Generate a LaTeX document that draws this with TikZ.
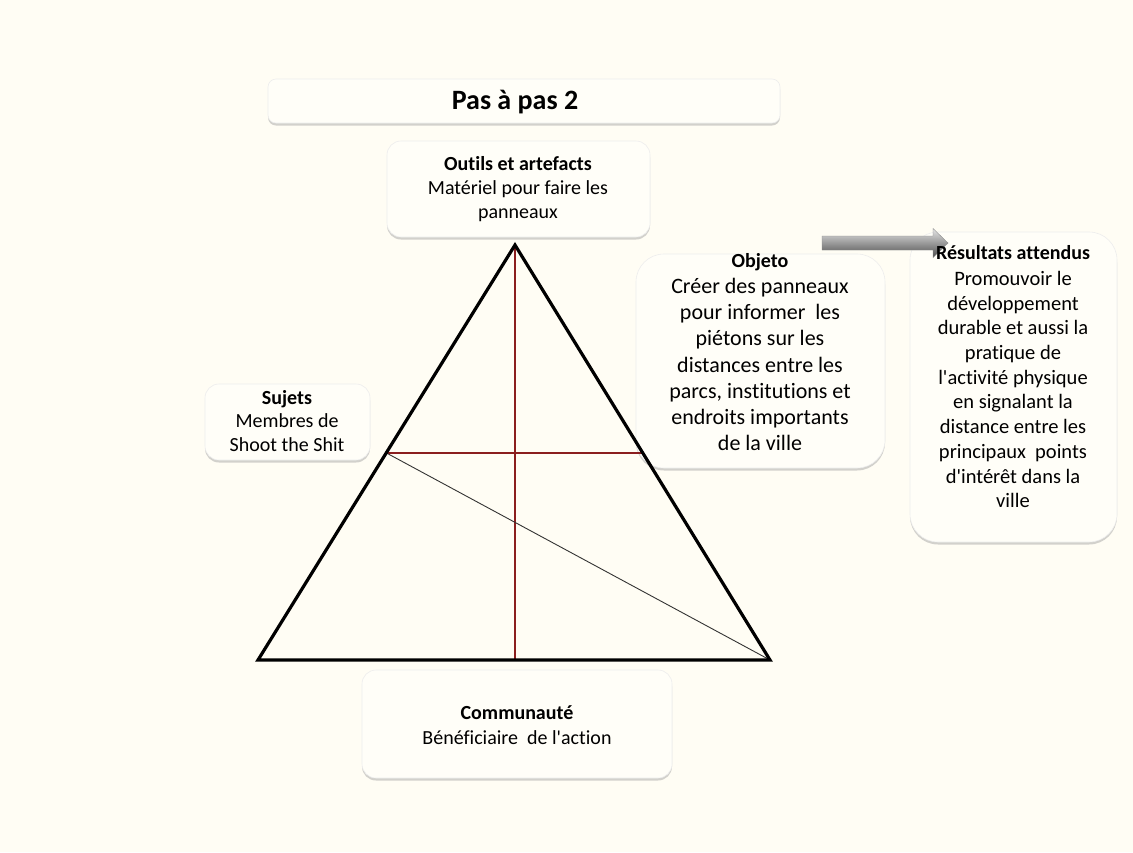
\documentclass[tikz,border=0pt]{standalone}
\usepackage{fontspec}
\setmainfont{Carlito}[Ligatures={TeXOff,NoCommon}]
\usetikzlibrary{shadows}
\definecolor{bgc}{HTML}{FFFDF4}
\definecolor{boxc}{HTML}{FFFEF8}
\definecolor{redl}{HTML}{8B1E1E}
\newcommand\hdfont{\fontsize{20}{23}\bfseries\selectfont}
\tikzset{
  card/.style={draw=black!7, fill=boxc, rounded corners=14pt, line width=0.6pt,
    drop shadow={shadow xshift=0pt, shadow yshift=-2.5pt, fill=black!35, opacity=0.5}},
  lbl/.style={align=center, inner sep=0pt, font=\fontsize{20}{23.8}\selectfont},
  big/.style={align=center, inner sep=0pt, font=\fontsize{22}{26.2}\selectfont},
  res/.style={align=center, inner sep=0pt, font=\fontsize{20.5}{24.7}\selectfont},
  tri/.style={line width=3.2pt, line join=miter},
  redline/.style={draw=redl, line width=1.3pt},
  diag/.style={draw=black!80, line width=0.9pt},
  blockarrow/.style={top color=black!10, bottom color=black!70, draw=black!45, line width=0.4pt}
}
\begin{document}
\begin{tikzpicture}[x=1pt,y=-1pt]
\fill[bgc] (0,0) rectangle (1133,852);
\useasboundingbox (0,0) rectangle (1133,852);

% boxes
\node[card, minimum width=512pt, minimum height=44pt, rounded corners=8pt] (titlebox) at (524,101) {};
\node[card, minimum width=263pt, minimum height=96pt] (outbox) at (518.5,189) {};
\node[card, minimum width=165pt, minimum height=76pt] (sujbox) at (287.5,422) {};
\node[card, minimum width=249pt, minimum height=214pt, rounded corners=28pt] (objbox) at (760.5,361) {};
\node[card, minimum width=207pt, minimum height=310pt, rounded corners=28pt] (resbox) at (1013.5,387) {};
\node[card, minimum width=310pt, minimum height=108pt] (combox) at (517,724) {};

% triangle
\coordinate (A) at (515,245);
\coordinate (B) at (258,660);
\coordinate (C) at (770,660);
\coordinate (M) at (386.5,453);
\coordinate (N) at (643.5,453);
\coordinate (F) at (515,660);
\draw[redline] (A) -- (F);
\draw[redline] (M) -- (N);
\draw[diag] (M) -- (C);
\draw[tri] (A) -- (B) -- (C) -- cycle;

% block arrow
\shade[blockarrow] (822,236) -- (933,236) -- (933,228.5) -- (948,243) -- (933,257.5) -- (933,250) -- (822,250) -- cycle;

% texts
\node[inner sep=0pt, font=\fontsize{28}{30}\bfseries\selectfont] (title) at (515,102) {Pas à pas 2};
\node[lbl] (outtxt) at (518,189) {{\hdfont Outils et artefacts}\\Matériel pour faire les\\panneaux};
\node[lbl] (sujtxt) at (287,421) {{\hdfont Sujets}\\Membres de\\Shoot the Shit};
\node[big, anchor=north] (objtxt) at (760,253) {{\hdfont Objeto}\\Créer des panneaux\\pour informer~ les\\piétons sur les\\distances entre les\\parcs, institutions et\\endroits importants\\de la ville};
\node[res, anchor=north] (restxt) at (1013,245) {{\hdfont Résultats attendus}\\[1.5pt]Promouvoir le\\développement\\durable et aussi la\\pratique de\\l'activité physique\\en signalant la\\distance entre les\\principaux~ points\\d'intérêt dans la\\ville};
\node[lbl, font=\fontsize{20}{25}\selectfont] (comtxt) at (517,725) {{\hdfont Communauté}\\Bénéficiaire~ de l'action};
\end{tikzpicture}
\end{document}
